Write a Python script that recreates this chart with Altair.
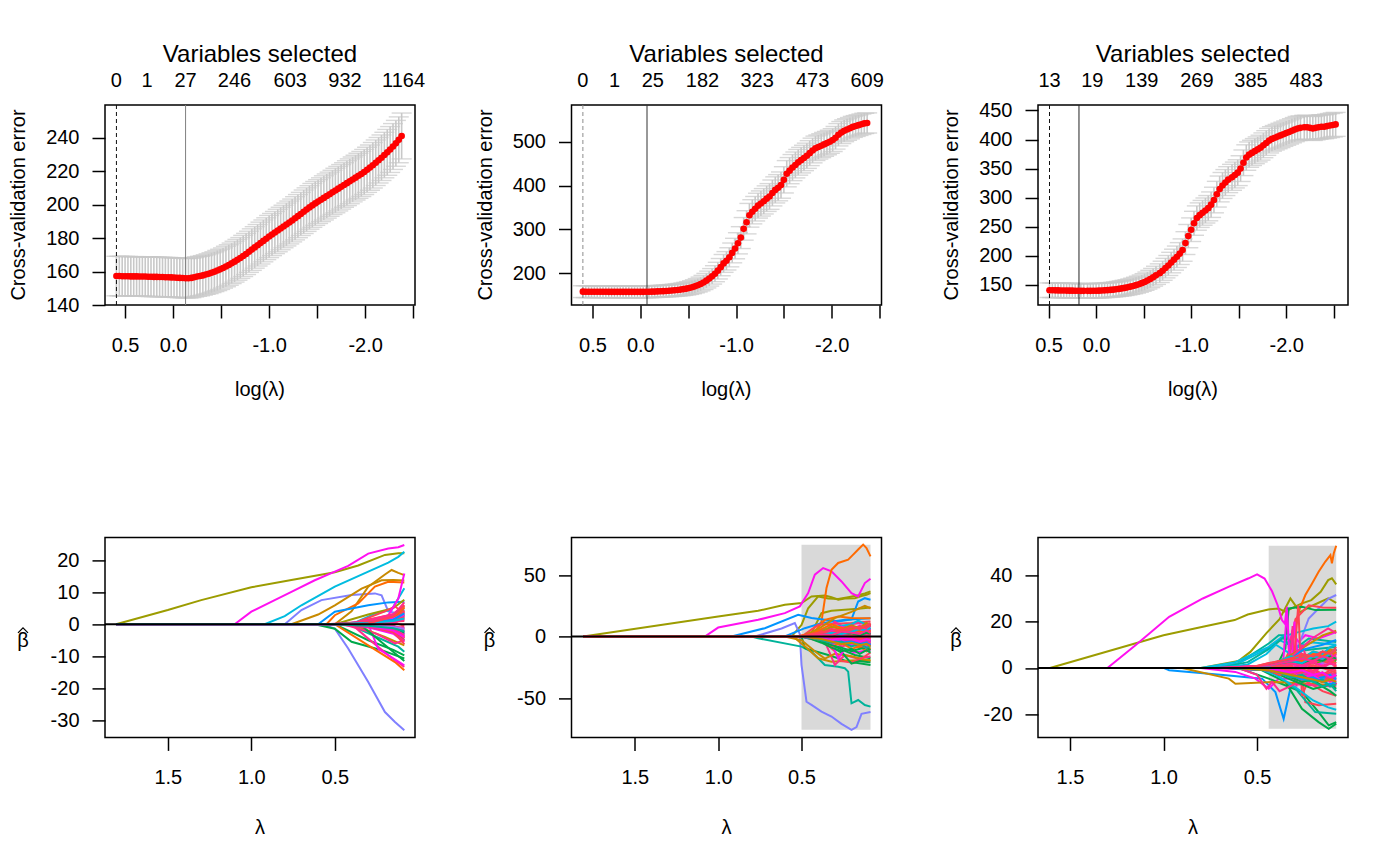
import altair as alt
import pandas as pd

FONT = "Liberation Sans"
W, H = 310, 200
GREY_BAR = "#C8C8C8"
SHADE_COL = "#D9D9D9"

# ---------------- cross-validation panels (top row) ----------------
CV1_X = [0.59,0.56,0.53,0.50,0.47,0.44,0.41,0.38,0.35,0.32,
         0.29,0.26,0.23,0.20,0.17,0.14,0.11,0.08,0.05,0.02,
         -0.01,-0.04,-0.07,-0.10,-0.13,-0.16,-0.19,-0.22,-0.25,-0.28,
         -0.31,-0.34,-0.37,-0.40,-0.43,-0.46,-0.49,-0.52,-0.55,-0.58,
         -0.61,-0.64,-0.67,-0.70,-0.73,-0.76,-0.79,-0.82,-0.85,-0.88,
         -0.91,-0.94,-0.97,-1.00,-1.03,-1.06,-1.09,-1.12,-1.15,-1.18,
         -1.21,-1.24,-1.27,-1.30,-1.33,-1.36,-1.39,-1.42,-1.45,-1.48,
         -1.51,-1.54,-1.57,-1.60,-1.63,-1.66,-1.69,-1.72,-1.75,-1.78,
         -1.81,-1.84,-1.87,-1.90,-1.93,-1.96,-1.99,-2.02,-2.05,-2.08,
         -2.11,-2.14,-2.17,-2.20,-2.23,-2.26,-2.29,-2.32,-2.35,-2.38]
CV1_M = [157.3,157.3,157.2,157.2,157.2,157.1,157.1,157.1,157.0,157.0,
         157.0,156.9,156.9,156.8,156.8,156.7,156.7,156.6,156.6,156.5,
         156.4,156.3,156.2,156.1,156.0,156.0,156.2,156.6,157.0,157.3,
         157.7,158.2,158.7,159.3,159.9,160.6,161.3,162.1,163.0,163.9,
         164.9,165.9,167.0,168.1,169.3,170.5,171.8,173.1,174.4,175.7,
         177.0,178.3,179.6,180.9,182.1,183.3,184.5,185.7,186.9,188.1,
         189.3,190.5,191.8,193.1,194.4,195.7,197.0,198.3,199.5,200.7,
         201.8,202.9,204.0,205.1,206.2,207.3,208.4,209.5,210.6,211.7,
         212.8,213.9,215.0,216.1,217.2,218.3,219.5,220.8,222.1,223.5,
         225.0,226.5,228.0,229.6,231.2,232.9,234.7,236.6,238.7,241.0]
CV1_SE = [11.8,11.8,11.8,11.8,11.8,11.8,11.8,11.8,11.8,11.8,
          11.8,11.8,11.8,11.8,11.8,11.8,11.8,11.8,11.8,11.8,
          11.8,11.8,11.8,11.8,11.8,11.8,11.8,11.8,11.8,11.8,
          11.8,11.8,11.9,11.9,11.9,12.0,12.0,12.0,12.1,12.1,
          12.1,12.2,12.2,12.2,12.3,12.3,12.3,12.4,12.4,12.4,
          12.5,12.5,12.5,12.6,12.6,12.6,12.7,12.7,12.7,12.8,
          12.8,12.8,12.9,12.9,12.9,13.0,13.0,13.0,13.1,13.1,
          13.1,13.1,13.2,13.2,13.2,13.2,13.3,13.3,13.3,13.3,
          13.4,13.4,13.4,13.4,13.5,13.5,13.5,13.5,13.5,13.6,
          13.6,13.6,13.6,13.6,13.7,13.7,13.7,13.7,13.7,13.7]

CV2_X = [0.60,0.57,0.54,0.51,0.48,0.45,0.42,0.39,0.36,0.33,
         0.30,0.27,0.24,0.21,0.18,0.15,0.12,0.09,0.06,0.03,
         0.00,-0.03,-0.06,-0.09,-0.12,-0.15,-0.18,-0.21,-0.24,-0.27,
         -0.30,-0.33,-0.36,-0.39,-0.42,-0.45,-0.48,-0.51,-0.54,-0.57,
         -0.60,-0.63,-0.66,-0.69,-0.72,-0.75,-0.78,-0.81,-0.84,-0.87,
         -0.90,-0.93,-0.96,-0.99,-1.02,-1.05,-1.08,-1.11,-1.14,-1.17,
         -1.20,-1.23,-1.26,-1.29,-1.32,-1.35,-1.38,-1.41,-1.44,-1.47,
         -1.50,-1.53,-1.56,-1.59,-1.62,-1.65,-1.68,-1.71,-1.74,-1.77,
         -1.80,-1.83,-1.86,-1.89,-1.92,-1.95,-1.98,-2.01,-2.04,-2.07,
         -2.10,-2.13,-2.16,-2.19,-2.22,-2.25,-2.28,-2.31,-2.34,-2.37]
CV2_M = [157.5,157.4,157.4,157.3,157.3,157.3,157.2,157.2,157.2,157.1,
         157.1,157.1,157.0,157.0,157.0,157.0,157.0,157.0,157.0,157.0,
         157.0,157.1,157.2,157.3,157.5,157.7,158.0,158.3,158.7,159.1,
         159.6,160.1,160.7,161.4,162.2,163.2,164.4,165.8,167.6,169.7,
         172.1,175.0,178.5,182.6,187.3,192.5,198.5,205.5,213.5,222.0,
         228.0,236.0,246.0,256.0,268.0,281.0,301.0,316.0,332.0,340.0,
         347.0,354.0,359.0,364.0,370.0,375.0,383.0,390.0,395.0,401.0,
         413.0,427.0,434.0,441.0,447.0,453.0,458.0,463.0,468.0,474.0,
         480.0,485.0,488.0,491.0,494.0,497.0,500.0,504.0,509.0,516.0,
         521.0,525.0,528.0,531.0,534.0,536.0,538.0,540.0,542.0,543.0]
CV2_SE = [13.5,13.5,13.5,13.5,13.5,13.5,13.5,13.5,13.5,13.5,
          13.5,13.5,13.5,13.5,13.5,13.5,13.5,13.5,13.5,13.5,
          13.5,13.5,13.5,13.5,13.5,13.5,13.5,13.5,13.5,13.5,
          13.6,13.7,13.8,13.9,14.0,14.2,14.4,14.6,14.8,15.0,
          15.3,15.7,16.1,16.6,17.1,17.7,18.3,19.0,19.7,20.4,
          21.0,21.8,22.6,23.4,24.2,25.0,25.8,26.5,27.1,27.6,
          28.0,28.4,28.7,29.0,29.2,29.4,29.6,29.8,29.9,30.0,
          30.0,30.0,29.9,29.8,29.6,29.4,29.2,29.0,28.8,28.5,
          28.2,27.9,27.6,27.3,27.0,26.7,26.4,26.1,25.8,25.5,
          25.2,24.9,24.6,24.3,24.0,23.8,23.6,23.4,23.2,23.0]

CV3_X = [0.49,0.46,0.43,0.40,0.37,0.34,0.31,0.28,0.25,0.22,
         0.19,0.16,0.13,0.09,0.06,0.03,0.00,-0.03,-0.06,-0.09,
         -0.12,-0.15,-0.18,-0.21,-0.24,-0.27,-0.30,-0.33,-0.36,-0.39,
         -0.42,-0.45,-0.48,-0.51,-0.54,-0.57,-0.60,-0.63,-0.67,-0.70,
         -0.73,-0.76,-0.79,-0.82,-0.85,-0.88,-0.91,-0.94,-0.97,-1.00,
         -1.03,-1.06,-1.09,-1.12,-1.15,-1.18,-1.21,-1.24,-1.27,-1.30,
         -1.33,-1.36,-1.39,-1.43,-1.46,-1.49,-1.52,-1.55,-1.58,-1.61,
         -1.64,-1.67,-1.70,-1.73,-1.76,-1.79,-1.82,-1.85,-1.88,-1.91,
         -1.94,-1.97,-2.00,-2.03,-2.06,-2.09,-2.12,-2.15,-2.19,-2.22,
         -2.25,-2.28,-2.31,-2.34,-2.37,-2.40,-2.43,-2.46,-2.49,-2.52]
CV3_M = [141.0,140.9,140.8,140.7,140.6,140.5,140.4,140.3,140.2,140.1,
         140.0,139.9,139.9,139.9,139.9,140.0,140.1,140.3,140.5,140.8,
         141.1,141.5,142.0,142.6,143.3,144.1,145.0,146.0,147.1,148.3,
         149.7,151.3,153.1,155.2,157.6,160.3,163.3,166.6,170.3,174.5,
         179.0,183.5,188.5,193.5,198.5,204.0,210.0,222.0,234.0,245.0,
         256.0,265.0,270.0,274.0,278.0,282.0,288.0,296.0,306.0,315.0,
         321.0,326.0,331.0,335.0,339.0,343.0,350.0,360.0,369.0,374.0,
         377.0,380.0,383.0,386.0,390.0,394.0,398.0,401.0,403.0,405.0,
         407.0,409.0,411.0,413.0,415.0,417.0,419.0,420.0,421.0,421.0,
         420.0,419.0,420.0,421.0,422.0,422.0,423.0,424.0,425.0,426.0]
CV3_SE = [12.5,12.5,12.5,12.5,12.5,12.5,12.5,12.5,12.5,12.5,
          12.5,12.5,12.5,12.5,12.5,12.5,12.5,12.5,12.5,12.5,
          12.5,12.6,12.6,12.7,12.8,12.9,13.0,13.1,13.2,13.4,
          13.6,13.8,14.0,14.3,14.6,14.9,15.2,15.6,16.0,16.4,
          16.8,17.2,17.6,18.0,18.4,18.8,19.2,19.6,20.0,20.3,
          20.6,20.9,21.1,21.3,21.5,21.7,21.9,22.0,22.1,22.2,
          22.3,22.3,22.3,22.3,22.2,22.2,22.1,22.0,21.9,21.8,
          21.7,21.6,21.5,21.4,21.3,21.2,21.1,21.0,21.0,20.9,
          20.9,20.8,20.8,20.7,20.7,20.7,20.6,20.6,20.6,20.6,
          20.6,20.6,20.6,20.6,20.6,20.6,20.6,20.6,20.6,20.6]

# "Variables selected" labels on the top axis
TOP1_POS = [0.59, 0.27, -0.13, -0.64, -1.22, -1.79, -2.40]
TOP1_LAB = ["0", "1", "27", "246", "603", "932", "1164"]
TOP2_POS = [0.60, 0.27, -0.13, -0.65, -1.22, -1.80, -2.37]
TOP2_LAB = ["0", "1", "25", "182", "323", "473", "609"]
TOP3_POS = [0.49, 0.04, -0.48, -1.06, -1.63, -2.21]
TOP3_LAB = ["13", "19", "139", "269", "385", "483"]

# reference lines (dashed, solid) in log(lambda)
VLINES1 = [0.59, -0.13]
VLINES2 = [0.60, -0.07]
VLINES3 = [0.49, 0.18]

TOP_XTICKS = [0.5, 0.0, -0.5, -1.0, -1.5, -2.0, -2.5]
Y1_TICKS = [140, 160, 180, 200, 220, 240]
Y2_TICKS = [200, 300, 400, 500]
Y3_TICKS = [150, 200, 250, 300, 350, 400, 450]

# ---------------- coefficient path panels (bottom row) ----------------
# each path: (colour group, lambda knots, beta values)
LAMMAX_A = 1.81
PATHS_A = [
    ("ol", [1.81,1.5,1.3,1.0,0.76,0.5,0.36,0.2,0.12,0.084], [0,4.4,7.5,11.5,13.8,16.2,18.3,21.6,22.1,22.1]),
    ("mg", [1.10,1.0,0.86,0.76,0.62,0.5,0.42,0.3,0.18,0.12,0.084], [0,3.9,7.5,10.1,13.7,16.4,18.2,22.0,23.6,24.0,24.7]),
    ("cy", [0.92,0.8,0.7,0.5,0.3,0.18,0.12,0.084], [0,2.5,5.9,11.7,16.4,19.2,21.0,22.6]),
    ("lv", [0.80,0.7,0.58,0.4,0.26,0.22,0.18,0.084], [0,4.4,7.5,9.1,9.6,9.0,4.0,3.0]),
    ("lv", [0.58,0.5,0.42,0.3,0.2,0.14,0.084], [0,-1.4,-7.6,-18.0,-27.4,-30.5,-33.1]),
    ("gd", [0.76,0.6,0.5,0.34,0.22,0.15,0.084], [0,3.0,5.9,11.1,13.7,13.8,13.6]),
    ("gd", [0.5,0.4,0.3,0.2,0.16,0.12,0.084], [0,4.0,11.7,15.5,16.9,16.0,15.3]),
    ("or", [0.55,0.5,0.36,0.26,0.18,0.084], [0,2.8,6.5,11.7,13.2,13.0]),
    ("bl", [0.6,0.5,0.3,0.18,0.084], [0,3.9,5.9,6.8,7.0]),
    ("cy", [0.4,0.25,0.16,0.12,0.084], [0,3.5,4.5,8.0,11.2]),
    ("ol", [0.5,0.3,0.15,0.084], [0,3.0,5.0,7.6]),
    ("gr", [0.62,0.5,0.4,0.22,0.084], [0,-1.4,-5.5,-8.1,-10.7]),
    ("gr", [0.5,0.3,0.15,0.084], [0,-5.0,-8.0,-9.7]),
    ("tl", [0.42,0.25,0.12,0.084], [0,-4.0,-7.0,-8.6]),
    ("or", [0.5,0.3,0.14,0.084], [0,-6.6,-11.8,-14.4]),
    ("pk", [0.4,0.3,0.18,0.084], [0,-4.5,-9.7,-13.3]),
    ("mg", [0.3,0.24,0.084], [0,-7.7,-12.8]),
    ("gd", [0.4,0.2,0.084], [0,-4.0,-6.6]),
    ("rd", [0.4,0.2,0.14,0.084], [0,4.0,5.5,3.5]),
    ("pk", [0.45,0.25,0.14,0.084], [0,-3.0,-6.0,-5.0]),
    ("gr", [0.35,0.2,0.084], [0,-6.5,-11.5]),
    ("mg", [0.30,0.2,0.12,0.084], [0,1.0,8.0,15.8]),
]
FAN_A_LAM = [0.3, 0.15, 0.084]
FAN_A = [
    ("pk",0.55,[0.8,1.5,2.5]), ("rd",0.50,[-0.5,-1.5,-3.0]), ("mg",0.45,[1.0,2.0,4.0]),
    ("pk",0.50,[-1.0,-2.0,-4.5]), ("rd",0.40,[1.5,3.0,5.0]), ("or",0.45,[0.5,1.5,3.0]),
    ("pk",0.35,[-0.8,-2.0,-2.5]), ("bl",0.50,[0.8,2.5,4.5]), ("cy",0.40,[-0.5,-1.5,-3.5]),
    ("gr",0.42,[-0.8,-2.5,-5.0]), ("tl",0.38,[0.6,1.8,2.8]), ("lv",0.45,[-0.5,-1.2,-2.0]),
    ("pu",0.35,[0.5,1.2,1.5]), ("mg",0.40,[-0.3,-1.0,-2.0]), ("rd",0.36,[0.3,0.8,1.0]),
    ("pk",0.33,[0.2,1.0,3.5]), ("rd",0.34,[-0.2,-0.8,-1.2]), ("or",0.40,[-0.6,-2.2,-4.0]),
    ("gd",0.42,[0.9,2.6,5.5]), ("pk",0.45,[1.2,3.2,6.0]), ("mg",0.38,[-1.0,-3.0,-5.5]),
    ("rd",0.44,[0.4,0.6,-0.5]), ("pk",0.32,[-0.4,-1.4,-0.8]), ("bl",0.36,[-0.3,-1.8,-3.0]),
    ("yg",0.40,[0.3,1.6,2.0]), ("rd",0.31,[0.1,2.0,4.0]), ("pk",0.37,[0.6,0.3,1.8]),
    ("mg",0.34,[-0.6,-0.3,-3.2]),
    ("rd",0.52,[0.6,2.2,4.2]), ("pk",0.48,[-0.6,-2.6,-5.2]), ("mg",0.50,[0.3,1.0,2.6]),
    ("rd",0.46,[-0.4,-1.8,-3.8]), ("pk",0.42,[0.9,2.8,6.8]), ("rd",0.38,[-0.7,-2.4,-6.2]),
    ("or",0.50,[0.4,2.0,5.2]), ("pk",0.44,[-0.2,-0.6,-1.6]), ("mg",0.36,[0.5,1.8,3.0]),
    ("rd",0.33,[-0.3,-1.6,-4.4]), ("pk",0.40,[0.2,0.9,1.2]), ("rd",0.47,[0.7,1.2,2.2]),
    ("bl",0.45,[0.3,1.4,3.4]), ("gr",0.48,[-0.4,-1.0,-2.6]), ("cy",0.50,[0.4,1.0,1.8]),
    ("pk",0.55,[-0.3,-1.2,-3.6]), ("rd",0.35,[0.2,2.4,5.8]), ("mg",0.43,[-0.5,-2.0,-4.0]),
    ("pu",0.45,[-0.3,-0.9,-1.4]), ("tl",0.50,[-0.5,-1.3,-2.2]),
]

LAMMAX_B = 1.81
PATHS_B = [
    ("ol", [1.81,1.0,0.76,0.6,0.5,0.44,0.36,0.32,0.28,0.24,0.18,0.14,0.11,0.086], [0,16.3,20.9,25.8,27.2,32.6,33.4,32.0,29.9,31.0,31.2,33.0,34.0,35.3]),
    ("ol", [0.56,0.5,0.46,0.4,0.34,0.28,0.22,0.16,0.12,0.086], [0,9.5,23.0,32.6,31.0,30.5,32.0,33.5,35.0,36.7]),
    ("ol", [0.45,0.38,0.32,0.24,0.16,0.086], [0,19.0,21.0,21.7,22.5,23.6]),
    ("mg", [1.08,1.0,0.76,0.6,0.51,0.46,0.42,0.37,0.32,0.26,0.2,0.16,0.12,0.086], [0,7.3,13.6,19.0,24.5,35.3,50.3,55.7,53.0,44.8,35.3,32.6,43.5,47.0]),
    ("or", [0.48,0.42,0.38,0.35,0.32,0.28,0.22,0.19,0.16,0.13,0.11,0.086], [0,3.0,12.2,39.4,54.3,59.8,62.5,66.6,70.7,74.7,72.0,65.2]),
    ("bl", [0.92,0.72,0.52,0.44,0.28,0.2,0.16,0.12,0.086], [0,6.8,17.7,15.0,12.2,14.0,28.5,31.2,29.9]),
    ("lv", [0.78,0.62,0.54,0.51,0.5,0.47,0.44,0.38,0.32,0.26,0.2,0.17,0.14,0.086], [0,6.5,11.0,2.0,-23.0,-53.0,-55.6,-61.0,-65.0,-71.0,-75.8,-73.6,-62.8,-61.4]),
    ("tl", [0.8,0.76,0.5,0.44,0.36,0.28,0.24,0.22,0.2,0.16,0.12,0.086], [0,-1.4,-8.2,-12.2,-23.1,-24.5,-25.8,-28.5,-54.3,-51.6,-55.7,-57.0]),
    ("gr", [0.5,0.48,0.34,0.22,0.086], [0,-9.5,-15.0,-20.4,-23.1]),
    ("gr", [0.4,0.32,0.18,0.086], [0,-7.0,-15.0,-17.7]),
    ("gd", [0.55,0.48,0.4,0.32,0.2,0.086], [0,-8.0,-17.7,-20.4,-19.5,-19.0]),
    ("pk", [0.45,0.36,0.3,0.24,0.16,0.086], [0,-4.0,-23.1,-15.0,-18.0,-16.3]),
    ("bl", [0.6,0.48,0.38,0.24,0.086], [0,6.8,10.9,13.6,14.9]),
    ("or", [0.45,0.36,0.28,0.2,0.086], [0,13.6,16.3,15.0,14.9]),
    ("rd", [0.5,0.4,0.2,0.086], [0,9.5,11.0,12.2]),
    ("gd", [0.6,0.5,0.42,0.36,0.3,0.2,0.086], [0,-3.0,-12.0,-18.0,-14.0,-16.0,-20.0]),
    ("pk", [0.45,0.35,0.3,0.25,0.2,0.15,0.086], [0,5.0,12.0,8.0,10.0,11.0,9.0]),
    ("rd", [0.42,0.35,0.3,0.26,0.2,0.14,0.086], [0,-6.0,-12.0,-20.0,-21.0,-18.0,-13.0]),
    ("gr", [0.35,0.3,0.25,0.2,0.15,0.086], [0,-10.0,-14.0,-22.0,-20.0,-21.0]),
    ("mg", [0.4,0.32,0.28,0.24,0.18,0.086], [0,-5.0,-18.0,-10.0,-13.0,-11.0]),
    ("cy", [0.5,0.4,0.3,0.2,0.16,0.086], [0,5.0,8.0,10.0,13.0,8.0]),
    ("gd", [0.5,0.4,0.3,0.2,0.12,0.086], [0,6.0,15.0,20.0,25.0,23.0]),
]
FAN_B_LAM = [0.44, 0.38, 0.32, 0.26, 0.2, 0.15, 0.11, 0.086]
FAN_B = [
    ("pk",0.52,[1,3,6,4,7,5,8,6]), ("rd",0.50,[-1,-2,-5,-3,-6,-4,-7,-5]),
    ("mg",0.48,[2,1,4,8,5,9,6,10]), ("pk",0.50,[-2,-4,-3,-8,-6,-9,-5,-8]),
    ("rd",0.55,[1,4,2,5,9,6,10,8]), ("or",0.50,[-1,-3,-8,-5,-10,-8,-12,-9]),
    ("pk",0.47,[0.5,2,1,3,2,4,3,4]), ("bl",0.52,[1,2,4,6,5,7,9,8]),
    ("cy",0.49,[-1,-2,-1,-4,-3,-5,-3,-6]), ("gr",0.51,[-2,-5,-9,-12,-10,-14,-11,-13]),
    ("tl",0.48,[1,3,5,3,6,4,7,5]), ("lv",0.50,[-1,-1,-3,-2,-4,-3,-2,-4]),
    ("pu",0.46,[0.5,1,2,1,3,2,3,2]), ("mg",0.50,[-1,-3,-6,-4,-2,-5,-3,-4]),
    ("rd",0.47,[1,2,1,3,4,3,5,4]), ("pk",0.53,[2,5,3,7,4,8,6,9]),
    ("rd",0.49,[-1,-1,-2,-1,-3,-2,-1,-2]), ("gd",0.51,[2,4,8,6,9,7,11,9]),
    ("pk",0.47,[-0.5,-2,-1,-5,-3,-6,-4,-7]), ("mg",0.52,[1,-1,2,-2,1,-1,3,1]),
    ("rd",0.48,[0.5,3,2,6,4,3,5,7]), ("pk",0.46,[-1,-3,-2,-4,-6,-5,-3,-5]),
    ("gr",0.50,[-1,-4,-7,-9,-12,-10,-9,-11]), ("or",0.54,[2,6,10,7,5,8,6,5]),
    ("yg",0.49,[1,0,2,5,3,4,2,3]), ("bl",0.46,[-1,-2,-4,-3,-6,-5,-4,-3]),
    ("pk",0.50,[0,1,-1,2,0,3,1,2]), ("rd",0.51,[-0.5,0,-2,-1,-3,-1,-2,0]),
    ("rd",0.50,[1,2,4,2,5,3,6,4]), ("pk",0.49,[-1,-2,-1,-3,-2,-5,-3,-4]),
    ("mg",0.47,[0.5,2,5,3,2,4,7,5]), ("rd",0.52,[-1,-3,-2,-6,-4,-7,-9,-6]),
    ("pk",0.51,[1,0,3,1,4,2,1,3]), ("rd",0.48,[0,-1,1,-2,-1,-3,-1,-2]),
    ("or",0.46,[1,3,2,4,6,4,3,5]), ("pk",0.50,[-0.5,1,-1,1,-2,0,2,-1]),
    ("mg",0.53,[-1,-2,-4,-3,-7,-5,-8,-6]), ("rd",0.47,[1,4,3,6,5,8,7,10]),
    ("pk",0.49,[0.5,-1,2,0,3,1,4,2]), ("bl",0.51,[-1,-1,-3,-5,-4,-6,-5,-7]),
    ("gr",0.48,[1,2,1,3,2,1,3,2]), ("cy",0.50,[0.5,1,3,2,4,6,5,7]),
    ("tl",0.52,[-1,-3,-5,-4,-8,-6,-9,-8]), ("rd",0.46,[0,1,0,-1,1,-1,0,1]),
    ("pk",0.53,[1,2,1,4,3,2,5,3]), ("mg",0.49,[-0.5,-1,-3,-1,-2,-4,-2,-3]),
    ("gd",0.47,[-1,-2,-4,-6,-5,-7,-6,-8]), ("rd",0.50,[2,3,6,5,8,6,9,11]),
]
SHADE_B = [0.5, 0.086]

LAMMAX_C = 1.607
PATHS_C = [
    ("ol", [1.607,1.0,0.79,0.62,0.55,0.44,0.385,0.35,0.3,0.26,0.21,0.16,0.12,0.1,0.077], [0,14.1,17.7,20.6,23.0,25.2,25.6,24.2,26.3,27.8,29.2,32.8,37.8,38.6,36.0]),
    ("ol", [0.8,0.6,0.536,0.45,0.38,0.322,0.27,0.2,0.12,0.077], [0,3.0,6.9,15.0,21.0,29.9,24.0,27.0,30.0,28.0]),
    ("mg", [1.30,1.15,0.97,0.79,0.65,0.545,0.5,0.46,0.42,0.39,0.367,0.352,0.34,0.331,0.313,0.278,0.242,0.171,0.077], [0,9.8,22.0,29.9,35.0,38.6,40.3,38.5,33.0,27.0,20.6,19.1,26.3,8.3,15.5,11.2,14.1,12.7,15.5]),
    ("or", [0.37,0.313,0.278,0.242,0.206,0.171,0.135,0.108,0.1,0.09,0.077], [0,9.8,24.2,31.4,36.4,41.4,45.8,48.6,45.0,49.4,52.6]),
    ("lv", [0.4,0.295,0.224,0.171,0.117,0.077], [0,6.0,21.3,25.6,29.9,31.4]),
    ("gr", [0.4,0.349,0.331,0.26,0.189,0.077], [0,8.3,25.6,26.3,24.9,25.0]),
    ("rd", [0.35,0.295,0.224,0.15,0.077], [0,21.0,27.0,26.0,25.9]),
    ("tl", [0.7,0.616,0.438,0.384,0.349,0.295,0.224,0.077], [0,1.2,10.5,14.1,14.1,8.3,12.7,11.2]),
    ("cy", [0.8,0.616,0.438,0.366,0.3,0.2,0.12,0.077], [0,2.5,9.1,13.4,15.0,17.0,18.0,19.9]),
    ("cy", [0.75,0.6,0.45,0.38,0.3,0.2,0.077], [0,2.0,8.0,12.0,9.0,11.0,10.0]),
    ("tl", [0.7,0.55,0.42,0.36,0.3,0.2,0.077], [0,2.5,9.0,13.0,7.0,8.0,9.0]),
    ("cy", [0.7,0.55,0.45,0.4,0.32,0.2,0.077], [0,1.5,6.0,10.0,6.0,5.0,6.0]),
    ("bl", [1.0,0.97,0.651,0.473,0.402,0.375,0.358,0.34,0.322,0.295,0.077], [0,-1.0,-3.2,-4.6,-10.4,-17.6,-21.9,-15.4,-8.9,-4.6,-2.4]),
    ("mg", [0.8,0.616,0.509,0.438,0.384,0.331,0.077], [0,-1.7,-4.6,-8.9,-4.6,-4.6,-4.6]),
    ("gr", [0.6,0.438,0.26,0.171,0.117,0.077], [0,-4.6,-10.4,-19.0,-24.7,-23.3]),
    ("gr", [0.5,0.349,0.26,0.171,0.117,0.077], [0,-6.0,-17.6,-23.3,-26.2,-24.0]),
    ("rd", [0.4,0.26,0.242,0.171,0.077], [0,-4.6,-14.7,-16.1,-15.4]),
    ("tl", [0.45,0.295,0.189,0.077], [0,-8.9,-19.0,-19.7]),
    ("gd", [0.9,0.651,0.616,0.4,0.077], [0,-4.6,-6.8,-6.0,-7.5]),
    ("mg", [0.45,0.36,0.34,0.32,0.3,0.28,0.2,0.077], [0,3.0,25.0,-5.0,20.0,2.0,6.0,8.0]),
    ("pk", [0.4,0.33,0.31,0.29,0.26,0.2,0.077], [0,-3.0,18.0,-8.0,10.0,-4.0,-6.0]),
    ("rd", [0.35,0.3,0.28,0.26,0.23,0.15,0.077], [0,5.0,27.0,-12.0,-6.0,-10.0,-12.0]),
    ("cy", [0.5,0.4,0.3,0.2,0.12,0.077], [0,-3.0,-8.0,-14.0,-17.0,-18.0]),
    ("gd", [0.45,0.35,0.25,0.15,0.077], [0,4.0,9.0,14.0,16.0]),
    ("bl", [0.45,0.35,0.25,0.15,0.077], [0,3.0,8.0,10.0,12.0]),
    ("pk", [0.4,0.3,0.2,0.12,0.077], [0,6.0,13.0,17.0,15.0]),
    ("pk", [0.6,0.5,0.45,0.42,0.38,0.3,0.077], [0,-3.0,-9.0,-6.0,-10.0,-7.0,-8.0]),
]
FAN_C_LAM = [0.44, 0.38, 0.32, 0.26, 0.2, 0.15, 0.11, 0.077]
FAN_C = [
    ("pk",0.70,[1,2,4,3,5,4,6,5]), ("rd",0.65,[-1,-2,-4,-3,-5,-6,-5,-7]),
    ("mg",0.60,[1,3,2,6,4,7,5,8]), ("pk",0.75,[-1,-1,-3,-2,-4,-3,-5,-4]),
    ("rd",0.55,[2,3,1,4,6,5,7,6]), ("or",0.60,[-1,-3,-2,-5,-4,-6,-5,-7]),
    ("pk",0.50,[0.5,1,3,2,1,2,3,2]), ("bl",0.70,[1,2,3,5,4,6,5,7]),
    ("cy",0.65,[-1,-2,-3,-2,-4,-5,-3,-4]), ("gr",0.55,[-1,-2,-4,-6,-5,-8,-7,-9]),
    ("tl",0.60,[1,2,4,3,5,7,6,8]), ("lv",0.50,[-0.5,-1,-2,-3,-2,-4,-3,-2]),
    ("pu",0.70,[0.5,1,2,1,3,2,4,3]), ("mg",0.55,[-1,-2,-1,-4,-3,-2,-5,-3]),
    ("rd",0.50,[1,2,3,2,4,3,2,4]), ("pk",0.65,[1,3,2,5,3,6,4,5]),
    ("rd",0.60,[-0.5,-1,-2,-1,-3,-2,-4,-3]), ("gd",0.55,[1,3,5,4,7,6,8,7]),
    ("pk",0.46,[-0.5,-2,-1,-3,-2,-4,-3,-2]), ("mg",0.50,[1,-1,2,0,3,1,2,1]),
    ("rd",0.48,[0.5,1,3,1,2,4,3,2]), ("pk",0.62,[-1,-2,-3,-5,-4,-3,-6,-5]),
    ("gr",0.58,[-1,-3,-5,-7,-9,-8,-10,-12]), ("or",0.52,[1,2,3,5,4,6,5,7]),
    ("yg",0.60,[0.5,1,2,3,2,3,4,3]), ("bl",0.55,[-1,-2,-4,-3,-5,-4,-3,-5]),
    ("pk",0.47,[0,1,-1,2,0,1,2,1]), ("rd",0.52,[-0.5,0,-1,-2,-1,-3,-2,-1]),
    ("cy",0.58,[1,3,5,4,7,6,9,10]), ("tl",0.62,[-1,-2,-3,-5,-6,-8,-7,-10]),
    ("rd",0.66,[1,1,2,3,2,4,3,4]), ("pk",0.58,[-1,-2,-1,-3,-4,-2,-5,-3]),
    ("mg",0.62,[0.5,2,4,2,5,3,6,4]), ("rd",0.56,[-1,-3,-2,-5,-3,-6,-4,-7]),
    ("pk",0.72,[1,2,1,3,2,5,3,4]), ("rd",0.54,[0,-1,1,-2,0,-3,-1,-2]),
    ("or",0.64,[1,2,4,3,6,5,7,6]), ("pk",0.50,[-0.5,1,-1,2,-2,1,-1,0]),
    ("mg",0.68,[-1,-2,-3,-4,-3,-6,-5,-7]), ("rd",0.60,[1,3,2,5,4,7,6,9]),
    ("pk",0.52,[0.5,0,2,1,3,0,2,1]), ("bl",0.66,[-1,-2,-3,-5,-4,-6,-7,-6]),
    ("gr",0.60,[1,2,3,2,4,3,5,4]), ("cy",0.56,[0.5,2,3,2,5,4,6,8]),
    ("tl",0.64,[-1,-2,-4,-3,-6,-5,-8,-7]), ("rd",0.48,[0,1,0,-1,1,0,-1,1]),
    ("pk",0.70,[1,2,3,4,3,5,4,6]), ("mg",0.58,[-0.5,-1,-2,-1,-3,-2,-4,-3]),
    ("gd",0.62,[-1,-2,-3,-4,-5,-6,-5,-6]), ("rd",0.54,[2,3,4,6,5,7,6,8]),
]
SHADE_C = [0.438, 0.077]

BOT_XTICKS = [1.5, 1.0, 0.5]
Y4_TICKS = [-30, -20, -10, 0, 10, 20]
Y5_TICKS = [-50, 0, 50]
Y6_TICKS = [-20, 0, 20, 40]

GROUPS = ["ol", "mg", "cy", "lv", "or", "gd", "gr", "tl", "bl", "pk", "rd", "pu", "yg"]
GROUP_HEX = ["#9C9C00", "#FF10F0", "#00BCE0", "#8080FF", "#FF6A00", "#C88A00", "#00A94A",
             "#00B39A", "#0095FF", "#FF2D8C", "#FF4255", "#A070FF", "#5FAA00"]

XEXPR_TOP = ("indexof([-0.5, -1.5, -2.5], datum.value) >= 0 ? '' : "
             "(datum.value < 0 ? '-' : '') + format(abs(datum.value), '.1f')")
XEXPR_BOT = "format(datum.value, '.1f')"
YEXPR = "(datum.value < 0 ? '-' : '') + format(abs(datum.value), 'd')"
HAT_PATH = "M-1,0.5L0,-0.5L1,0.5"


def text_layer(txt, x, y, size=20, angle=0):
    return alt.Chart(pd.DataFrame({"t": [txt]})).mark_text(
        font=FONT, fontSize=size, angle=angle, align="center",
        baseline="alphabetic", color="black"
    ).encode(x=alt.value(x), y=alt.value(y), text="t:N")


def hat_layer(x, y):
    # the circumflex of beta-hat, drawn as a small chevron
    return alt.Chart(pd.DataFrame({"a": [0]})).mark_point(
        shape=HAT_PATH, filled=False, size=100, strokeWidth=1.3, color="black", opacity=1
    ).encode(x=alt.value(x), y=alt.value(y))


def phantom_layer():
    # anchors the top-left corner of the page
    return alt.Chart(pd.DataFrame({"a": [0]})).mark_rect(opacity=0).encode(
        x=alt.value(-104), x2=alt.value(0), y=alt.value(-103.3), y2=alt.value(0))


def cv_panel(xs, ms, ses, xdom, ydom, yvals, tpos, tlab, vlines, dash_col, solid_col, phantom=False):
    n = min(len(xs), len(ms), len(ses))
    df = pd.DataFrame({"loglam": xs[:n], "cve": ms[:n], "se": ses[:n]})
    df["lo"] = df["cve"] - df["se"]
    df["hi"] = df["cve"] + df["se"]
    xsc = alt.Scale(domain=xdom, reverse=True, nice=False, zero=False)
    ysc = alt.Scale(domain=ydom, nice=False, zero=False)
    xax = alt.Axis(values=TOP_XTICKS, labelExpr=XEXPR_TOP, title=None)
    yax = alt.Axis(values=yvals, labelExpr=YEXPR, title=None)

    def X(f):
        return alt.X(f + ":Q", scale=xsc, axis=xax)

    def Y(f):
        return alt.Y(f + ":Q", scale=ysc, axis=yax)

    base = alt.Chart(df)
    layers = []
    if phantom:
        layers.append(phantom_layer())
    layers += [
        base.mark_rule(color=GREY_BAR, strokeWidth=1.6).encode(x=X("loglam"), y=Y("lo"), y2="hi:Q"),
        base.mark_tick(orient="horizontal", size=20, thickness=1.4, color=GREY_BAR).encode(x=X("loglam"), y=Y("lo")),
        base.mark_tick(orient="horizontal", size=20, thickness=1.4, color=GREY_BAR).encode(x=X("loglam"), y=Y("hi")),
        alt.Chart(pd.DataFrame({"v": [vlines[0]]})).mark_rule(color=dash_col, strokeWidth=1, strokeDash=[4, 3]).encode(
            x=X("v"), y=alt.value(0), y2=alt.value(H)),
        alt.Chart(pd.DataFrame({"v": [vlines[1]]})).mark_rule(color=solid_col, strokeWidth=1).encode(
            x=X("v"), y=alt.value(0), y2=alt.value(H)),
        base.mark_circle(color="#FF0000", size=44, opacity=1).encode(x=X("loglam"), y=Y("cve")),
        alt.Chart(pd.DataFrame({"pos": tpos, "lab": tlab})).mark_text(
            font=FONT, fontSize=20, baseline="alphabetic", align="center", color="black"
        ).encode(x=X("pos"), y=alt.value(-18), text="lab:N"),
        text_layer("Variables selected", W / 2, -42.6, size=24),
        text_layer("Cross-validation error", -80, H / 2, angle=270),
        text_layer("log(\u03bb)", W / 2, H + 91),
    ]
    return alt.layer(*layers).properties(width=W, height=H)


def coef_panel(paths, fan_lam, fans, lammax, xdom, ydom, yvals, shade=None):
    rows = []
    k = 0
    for g, lams, vals in paths:
        pts = list(zip(lams, vals))
        if lams[0] < lammax:
            pts = [(lammax, 0.0)] + pts
        for j, (l, v) in enumerate(pts):
            rows.append({"id": "p%d" % k, "grp": g, "lam": l, "beta": v, "ord": j})
        k += 1
    for g, entry, vals in fans:
        pts = [(lammax, 0.0), (entry, 0.0)] + list(zip(fan_lam, vals))
        for j, (l, v) in enumerate(pts):
            rows.append({"id": "p%d" % k, "grp": g, "lam": l, "beta": v, "ord": j})
        k += 1
    df = pd.DataFrame(rows)
    xsc = alt.Scale(domain=xdom, reverse=True, nice=False, zero=False)
    ysc = alt.Scale(domain=ydom, nice=False, zero=False)
    xax = alt.Axis(values=BOT_XTICKS, labelExpr=XEXPR_BOT, title=None)
    yax = alt.Axis(values=yvals, labelExpr=YEXPR, title=None)

    def X(f):
        return alt.X(f + ":Q", scale=xsc, axis=xax)

    def Y(f):
        return alt.Y(f + ":Q", scale=ysc, axis=yax)

    layers = []
    if shade is not None:
        sdf = pd.DataFrame({"x1": [shade[0]], "x2": [shade[1]],
                            "y1": [float(df["beta"].min())], "y2": [float(df["beta"].max())]})
        layers.append(alt.Chart(sdf).mark_rect(color=SHADE_COL).encode(
            x=X("x1"), x2="x2:Q", y=Y("y1"), y2="y2:Q"))
    layers.append(alt.Chart(df).mark_line(strokeWidth=2).encode(
        x=X("lam"), y=Y("beta"),
        color=alt.Color("grp:N", scale=alt.Scale(domain=GROUPS, range=GROUP_HEX), legend=None),
        detail="id:N", order="ord:Q"))
    layers.append(alt.Chart(pd.DataFrame({"z": [0.0]})).mark_rule(color="black", strokeWidth=2).encode(
        y=Y("z"), x=alt.value(0), x2=alt.value(W)))
    # beta-hat label: beta with a circumflex drawn above it
    layers.append(text_layer("\u03b2", -82, H / 2 + 10))
    layers.append(hat_layer(-82, H / 2 - 7))
    layers.append(text_layer("\u03bb", W / 2, H + 96.4))
    return alt.layer(*layers).properties(width=W, height=H)


p1 = cv_panel(CV1_X, CV1_M, CV1_SE, [-2.519, 0.709], [140, 259.5], Y1_TICKS,
              TOP1_POS, TOP1_LAB, VLINES1, "#111111", "#808080", phantom=True)
p2 = cv_panel(CV2_X, CV2_M, CV2_SE, [-2.52, 0.719], [127, 584], Y2_TICKS,
              TOP2_POS, TOP2_LAB, VLINES2, "#8C8C8C", "#333333")
p3 = cv_panel(CV3_X, CV3_M, CV3_SE, [-2.65, 0.611], [115.6, 459.3], Y3_TICKS,
              TOP3_POS, TOP3_LAB, VLINES3, "#111111", "#222222")
p4 = coef_panel(PATHS_A, FAN_A_LAM, FAN_A, LAMMAX_A, [0.02, 1.876], [-35.3, 27.06], Y4_TICKS)
p5 = coef_panel(PATHS_B, FAN_B_LAM, FAN_B, LAMMAX_B, [0.02, 1.88], [-82, 80.6], Y5_TICKS, shade=SHADE_B)
p6 = coef_panel(PATHS_C, FAN_C_LAM, FAN_C, LAMMAX_C, [0.014, 1.671], [-29.9, 56.2], Y6_TICKS, shade=SHADE_C)

chart = alt.concat(
    p1, p2, p3, p4, p5, p6, columns=3,
    spacing={"row": 232.4, "column": 156.5}, bounds="flush"
).properties(
    padding=0
).configure_view(
    stroke="black", strokeWidth=1.5
).configure_axis(
    domain=False, grid=False, ticks=True, tickSize=13, tickWidth=1.5, tickColor="black",
    labelFont=FONT, labelFontSize=20, labelColor="black", labelOverlap=False, labelFlush=False
).configure_axisX(
    labelPadding=17
).configure_axisY(
    labelPadding=13
)

chart.save("out.html", embed_options={"renderer": "svg", "actions": False})
